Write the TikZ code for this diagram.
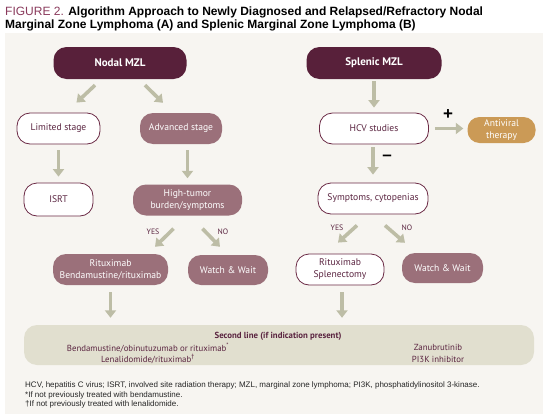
\documentclass[tikz,border=0pt]{standalone}
\usepackage{fontspec}
\setmainfont{PT Sans}
\newfontfamily\arialf{Liberation Sans}
\usetikzlibrary{arrows.meta}
\definecolor{panelc}{HTML}{F7F5F1}
\definecolor{darkm}{HTML}{58203A}
\definecolor{mauvec}{HTML}{9B707A}
\definecolor{outm}{HTML}{6B2A45}
\definecolor{txtm}{HTML}{5A2440}
\definecolor{arrc}{HTML}{BDBDA6}
\definecolor{goldc}{HTML}{CB9A56}
\definecolor{secc}{HTML}{E1DFCF}
\definecolor{figc}{HTML}{8A3A5C}
\begin{document}
\begin{tikzpicture}[x=1pt,y=-1pt,
  box/.style={rounded corners=13pt, minimum height=31pt, align=center, inner sep=1pt,
    font=\fontsize{9.6}{12}\selectfont},
  darkbox/.style={box, fill=darkm, text=white, minimum height=32pt, font=\fontsize{11}{13}\selectfont\bfseries},
  mauvebox/.style={box, fill=mauvec, text=white},
  outbox/.style={box, draw=outm, line width=0.8pt, fill=white, text=txtm},
  goldbox/.style={box, fill=goldc, text=white, minimum height=26pt, rounded corners=12pt},
  arr/.style={draw=arrc, line width=3.6pt, -{Triangle[width=11pt,length=7.5pt]}},
  lab/.style={font=\fontsize{7.8}{9}\selectfont, text=txtm, inner sep=0pt},
  sectxt/.style={font=\fontsize{8.8}{10}\selectfont, text=txtm, inner sep=0pt},
  foot/.style={font=\arialf\fontsize{8}{9.5}\selectfont, text=black!85, anchor=base west, inner sep=0pt},
  ttl/.style={font=\arialf\fontsize{12}{14}\selectfont, anchor=base west, inner sep=0pt}]
\useasboundingbox (0,0) rectangle (546,415);
\fill[white] (0,0) rectangle (546,415);
\fill[panelc] (5,33) rectangle (543,414);

% title
\node[ttl] (t1) at (5,16) {{\color{figc}FIGURE 2.} \textbf{Algorithm Approach to Newly Diagnosed and Relapsed/Refractory Nodal}};
\node[ttl] (t2) at (5,28) {\textbf{Marginal Zone Lymphoma (A) and Splenic Marginal Zone Lymphoma (B)}};

% nodal side
\node[darkbox, minimum width=133pt] (nodal) at (120,63) {Nodal MZL};
\node[outbox, minimum width=83pt] (lim) at (58.5,128.5) {Limited stage};
\node[mauvebox, minimum width=82pt] (adv) at (181,128.5) {Advanced stage};
\node[outbox, minimum width=69pt, minimum height=33pt] (isrt) at (58.5,199.5) {ISRT};
\node[mauvebox, minimum width=109pt] (high) at (187.5,200) {High-tumor\\burden/symptoms};
\node[mauvebox, minimum width=115pt] (ritb) at (110.5,269.5) {Rituximab\\Bendamustine/rituximab};
\node[mauvebox, minimum width=80pt, minimum height=30pt] (ww1) at (228,270) {Watch \& Wait};

% splenic side
\node[darkbox, minimum width=135pt] (splen) at (374,63) {Splenic MZL};
\node[outbox, minimum width=109pt] (hcv) at (374,128.5) {HCV studies};
\node[goldbox, minimum width=68pt] (anti) at (501.5,130) {Antiviral\\therapy};
\node[outbox, minimum width=110pt] (symp) at (373,198.5) {Symptoms, cytopenias};
\node[outbox, minimum width=88pt] (rits) at (340,269.5) {Rituximab\\Splenectomy};
\node[mauvebox, minimum width=81pt, minimum height=30pt] (ww2) at (442.5,268) {Watch \& Wait};

% second line box
\node[fill=secc, rounded corners=13pt, minimum width=510pt, minimum height=40pt, inner sep=0pt] (sec) at (279,345) {};
\node[sectxt, font=\fontsize{8.8}{10}\selectfont\bfseries] (sech) at (278,336) {Second line (if indication present)};
\node[sectxt] (secl1) at (148,347.5) {Bendamustine/obinutuzumab or rituximab\textsuperscript{*}};
\node[sectxt] (secl2) at (148,359) {Lenalidomide/rituximab\textsuperscript{†}};
\node[sectxt] (secr1) at (438,347.5) {Zanubrutinib};
\node[sectxt] (secr2) at (438,359) {PI3K inhibitor};

% labels
\node[lab] (yes1) at (153,232) {YES};
\node[lab] (no1) at (223,232) {NO};
\node[lab] (yes2) at (337,228) {YES};
\node[lab] (no2) at (407,228) {NO};
\node[font=\arialf\bfseries\fontsize{17}{17}\selectfont, inner sep=0pt] (plus) at (448,115) {+};
\node[font=\arialf\bfseries\fontsize{17}{17}\selectfont, inner sep=0pt] (minus) at (387,158) {\textendash};

% arrows
\draw[arr] ([xshift=-25pt,yshift=-6pt]nodal.south) -- ([xshift=18pt,yshift=10pt]lim.north);
\draw[arr] ([xshift=25pt,yshift=-6pt]nodal.south) -- ([xshift=-18pt,yshift=10pt]adv.north);
\draw[arr, shorten <=6pt, shorten >=6pt] (lim.south) -- (isrt.north);
\draw[arr, shorten <=6pt, shorten >=6pt] (high.north |- adv.south) -- (high.north);
\draw[arr] ([xshift=-14pt,yshift=-13pt]high.south) -- ([xshift=44.5pt,yshift=7pt]ritb.north);
\draw[arr] ([xshift=15pt,yshift=-13pt]high.south) -- ([xshift=-8pt,yshift=8pt]ww1.north);
\draw[arr, shorten <=7pt, shorten >=7pt] (ritb.south) -- (ritb.south |- sec.north);

\draw[arr, shorten <=2pt, shorten >=5pt] (splen.south) -- (hcv.north);
\draw[arr, shorten <=6pt, shorten >=4pt] (hcv.east) -- (hcv.east -| anti.west);
\draw[arr, shorten <=3pt, shorten >=8pt] ([xshift=-1pt]hcv.south) -- (symp.north);
\draw[arr] ([xshift=-16pt,yshift=-11pt]symp.south) -- ([xshift=-2pt,yshift=11pt]rits.north);
\draw[arr] ([xshift=12pt,yshift=-11pt]symp.south) -- ([xshift=-37.5pt,yshift=10pt]ww2.north);
\draw[arr, shorten <=7pt, shorten >=7pt] ([xshift=2pt]rits.south) -- ([xshift=2pt]rits.south |- sec.north);

% footnotes
\node[foot] (f1) at (25,387) {HCV, hepatitis C virus; ISRT, involved site radiation therapy; MZL, marginal zone lymphoma; PI3K, phosphatidylinositol 3-kinase.};
\node[foot] (f2) at (25,397) {*If not previously treated with bendamustine.};
\node[foot] (f3) at (25,406) {†If not previously treated with lenalidomide.};
\end{tikzpicture}
\end{document}
